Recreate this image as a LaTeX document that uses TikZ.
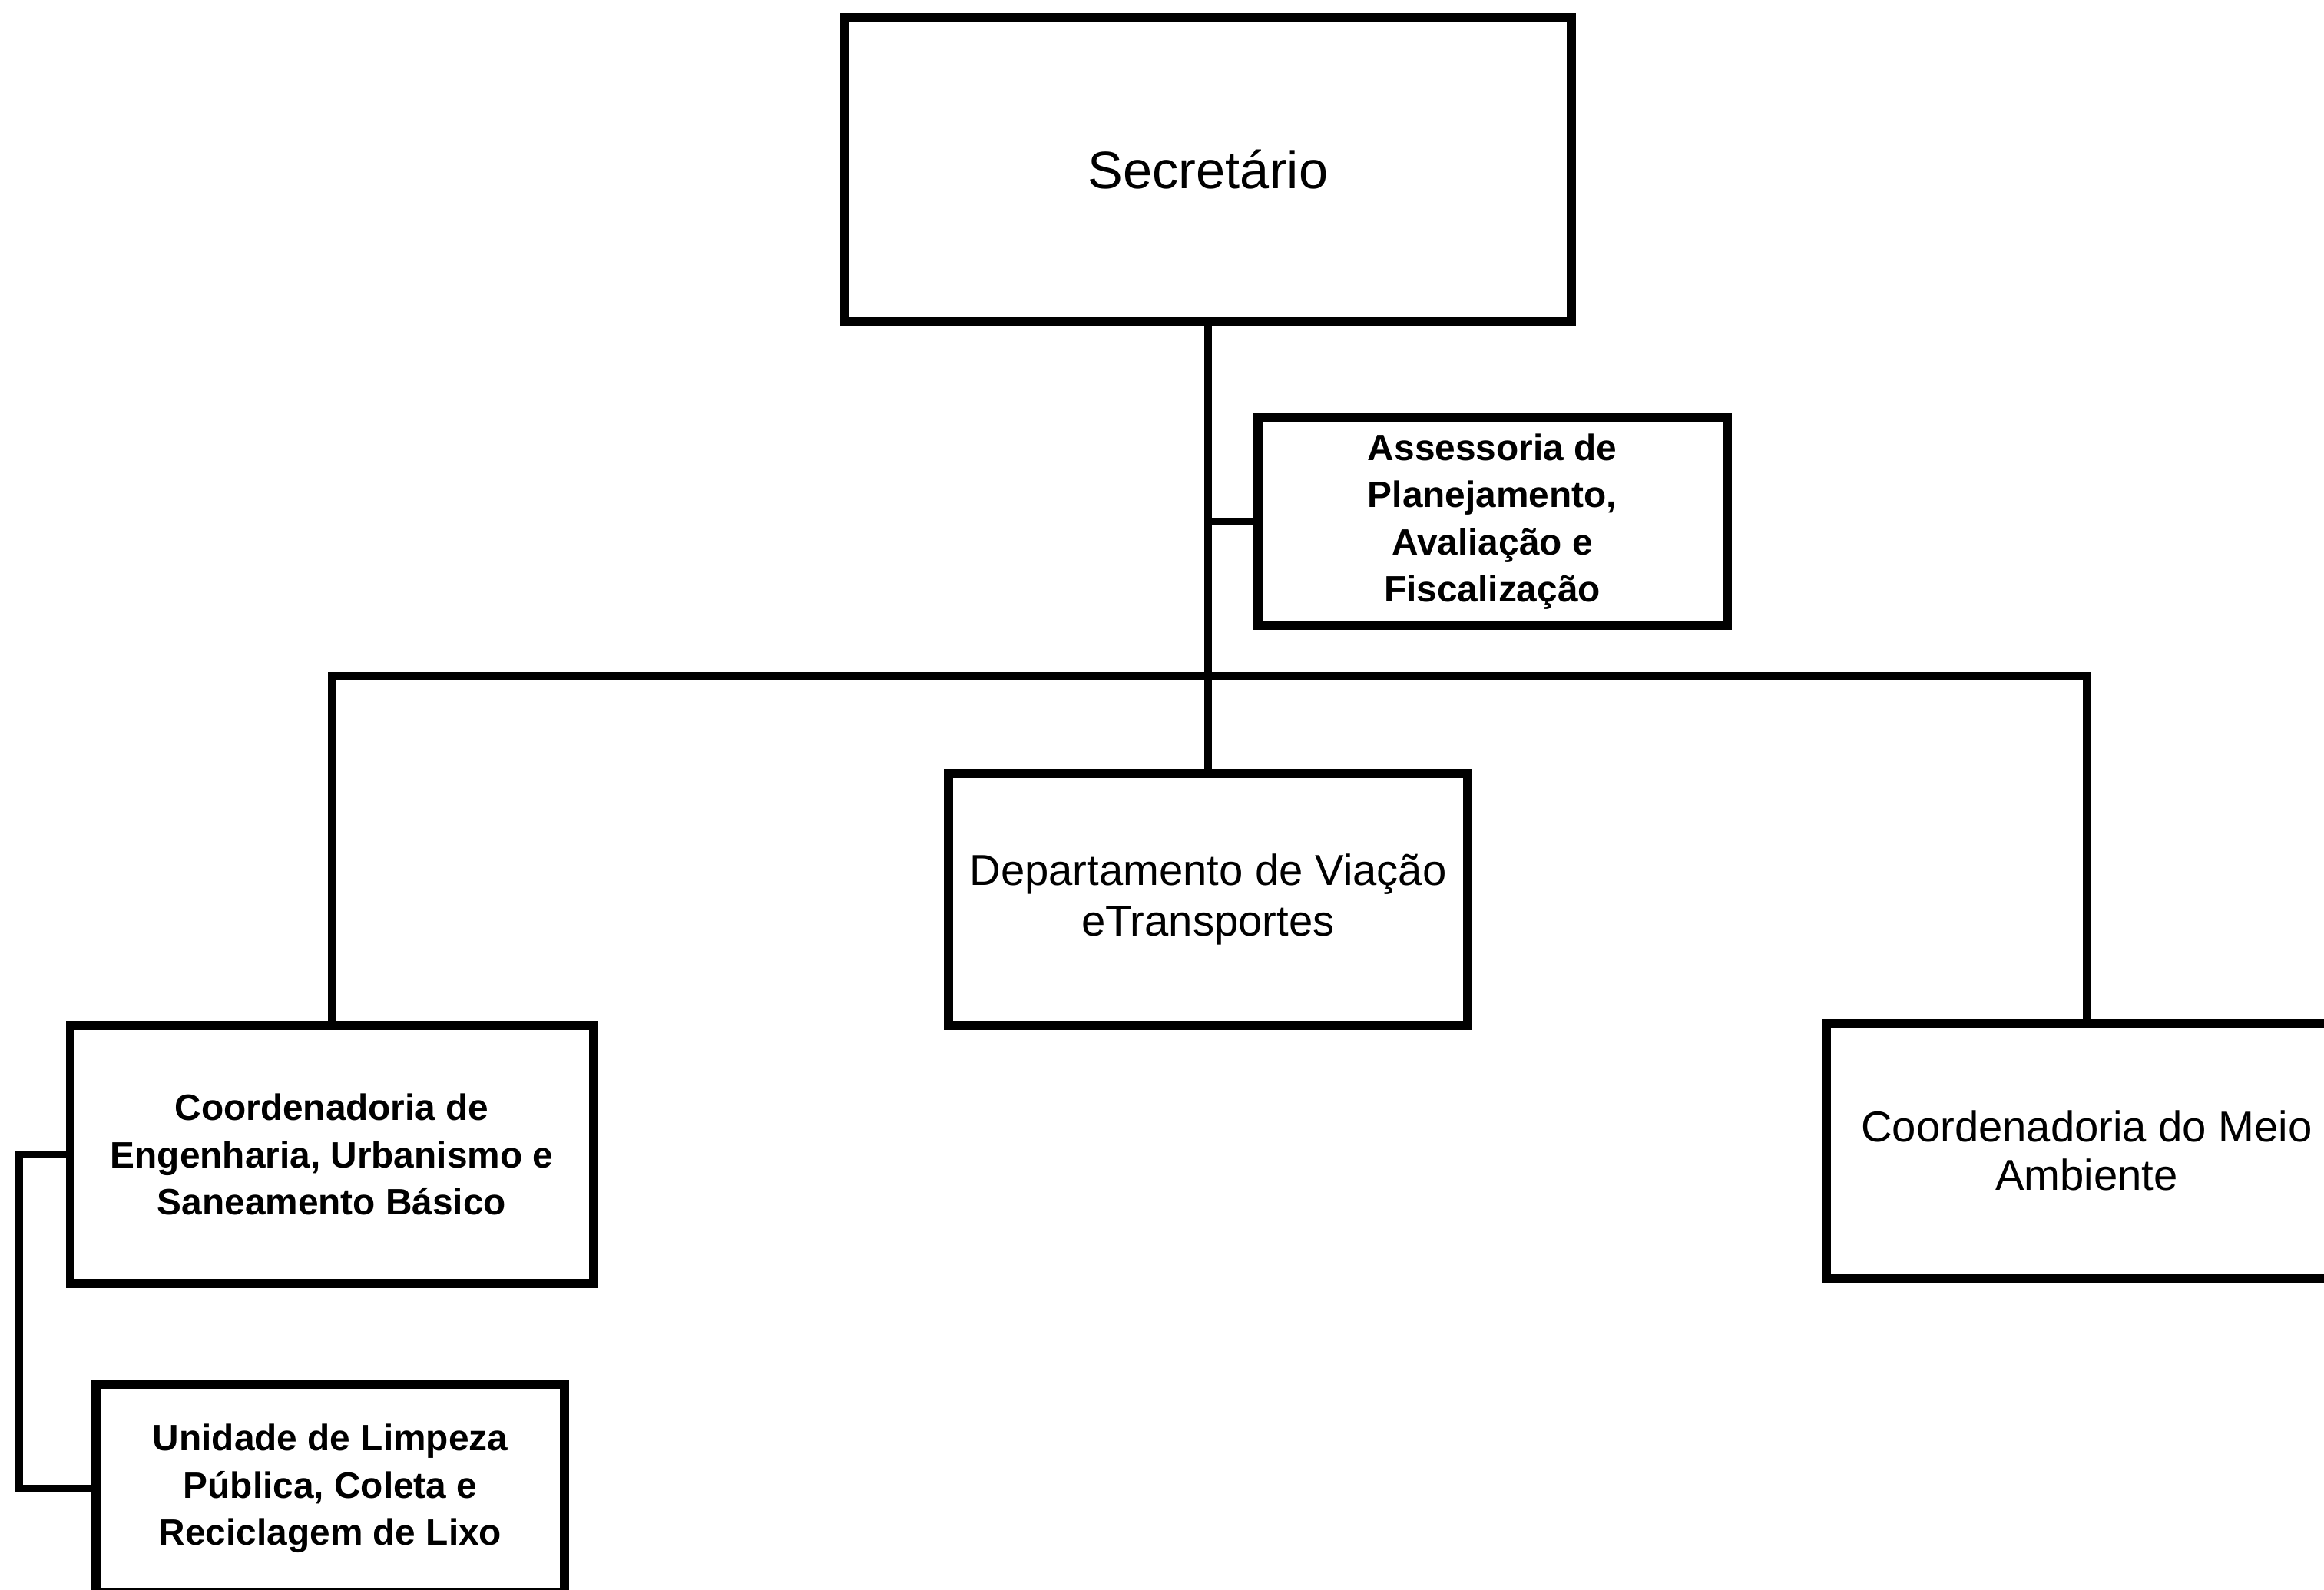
\documentclass[tikz,border=0pt]{standalone}
\usepackage{fontspec}
\setmainfont{Liberation Sans}
\begin{document}
\begin{tikzpicture}[
    caixa/.style={draw,line width=3.4pt,align=center,inner sep=0pt},
    liga/.style={line width=3pt},
    grande/.style={font=\fontsize{16}{19}\selectfont},
    miuda/.style={font=\bfseries\fontsize{13.6}{17.5}\selectfont}]
  \useasboundingbox (0,0) rectangle (30.26,-20.69);
  \node[caixa,minimum width=9.46cm,minimum height=3.96cm,font=\fontsize{19.5}{22}\selectfont]
    (sec) at (15.73,-2.21) {Secretário};
  \node[caixa,miuda,minimum width=6.11cm,minimum height=2.70cm]
    (ass) at (19.43,-6.79) {Assessoria de\\Planejamento,\\Avaliação e\\Fiscalização};
  \node[caixa,grande,minimum width=6.76cm,minimum height=3.28cm]
    (dep) at (15.73,-11.71) {Departamento de Viação\\eTransportes};
  \node[caixa,miuda,minimum width=6.81cm,minimum height=3.36cm]
    (eng) at (4.32,-15.03) {Coordenadoria de\\Engenharia, Urbanismo e\\Saneamento Básico};
  \node[caixa,grande,minimum width=6.78cm,minimum height=3.32cm,font=\fontsize{16}{18}\selectfont]
    (mei) at (27.17,-14.98) {Coordenadoria do Meio\\Ambiente};
  \node[caixa,miuda,minimum width=6.10cm,minimum height=2.72cm]
    (uni) at (4.30,-19.38) {Unidade de Limpeza\\Pública, Coleta e\\Reciclagem de Lixo};
  \coordinate (bus) at (15.73,-8.80);
  \coordinate (lado) at (0.25,-15.03);
  \draw[liga] (sec.south) -- (dep.north);
  \draw[liga] (sec.south|-ass.west) -- (ass.west);
  \draw[liga] (eng.north) -- (eng.north|-bus) -- (mei.north|-bus) -- (mei.north);
  \draw[liga] (eng.west) -- (lado) -- (lado|-uni.west) -- (uni.west);
\end{tikzpicture}
\end{document}
